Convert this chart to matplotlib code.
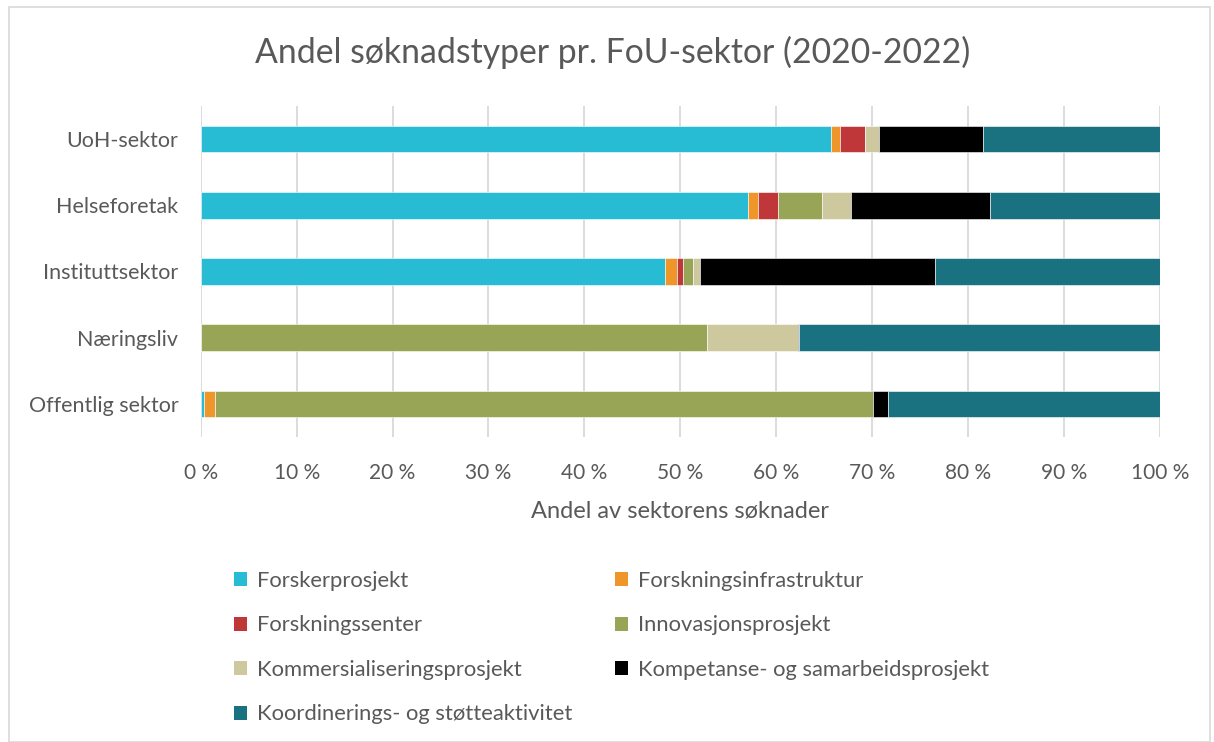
import numpy as np
import matplotlib.pyplot as plt
from matplotlib.patches import Rectangle, Patch
from matplotlib.ticker import FuncFormatter

plt.rcParams['font.family'] = ['Lato', 'DejaVu Sans']

sectors = ['UoH-sektor', 'Helseforetak', 'Instituttsektor', 'Næringsliv', 'Offentlig sektor']
types = ['Forskerprosjekt', 'Forskningsinfrastruktur', 'Forskningssenter',
         'Innovasjonsprosjekt', 'Kommersialiseringsprosjekt',
         'Kompetanse- og samarbeidsprosjekt', 'Koordinerings- og støtteaktivitet']
colors = ['#27bcd4', '#ef962a', '#c0373a', '#98a456', '#cec89e', '#000000', '#1a717f']

# andel (%) per sektor, samme rekkefølge som sectors
forskerprosjekt = [65.7, 57.0, 48.4, 0.0, 0.3]
infrastruktur = [0.9, 1.1, 1.3, 0.0, 1.2]
senter = [2.6, 2.1, 0.6, 0.0, 0.0]
innovasjon = [0.0, 4.6, 1.0, 52.8, 68.6]
kommersialisering = [1.5, 3.0, 0.7, 9.5, 0.0]
kompetanse = [10.8, 14.5, 24.5, 0.1, 1.5]
koordinering = [18.5, 17.7, 23.5, 37.6, 28.4]

series = [forskerprosjekt, infrastruktur, senter, innovasjon,
          kommersialisering, kompetanse, koordinering]

W, H = 1214, 742
fig = plt.figure(figsize=(W / 100, H / 100), dpi=100)
fig.patches.append(Rectangle((9 / W, 0), 1201 / W, 1 - 7 / H, transform=fig.transFigure,
                             fill=False, edgecolor='#d9d9d9', linewidth=1.2))

ax = fig.add_axes([200.7 / W, 1 - 437 / H, (1160 - 200.7) / W, (437 - 106) / H])
y = np.arange(len(sectors))
left = np.zeros(len(sectors))
for vals, c, name in zip(series, colors, types):
    vals = np.array(vals)
    ax.barh(y, vals, left=left, height=0.4, color=c, edgecolor='white',
            linewidth=0.4, label=name, zorder=3)
    left += vals

ax.set_xlim(0, 100)
ax.set_ylim(len(sectors) - 0.5, -0.5)
ax.set_xticks(np.arange(0, 101, 10))
ax.xaxis.set_major_formatter(FuncFormatter(lambda v, p: f'{v:.0f} %'))
ax.set_yticks(y)
ax.set_yticklabels(sectors)
ax.grid(axis='x', color='#d9d9d9', linewidth=1.3, zorder=0)
for s in ax.spines.values():
    s.set_visible(False)
ax.tick_params(length=0, colors='#595959')
ax.tick_params(axis='x', pad=19, labelsize=15)
ax.tick_params(axis='y', pad=16, labelsize=15.5)
ax.set_xlabel('Andel av sektorens søknader', fontsize=17, color='#595959', labelpad=12)

fig.text(613 / W, 1 - 52 / H, 'Andel søknadstyper pr. FoU-sektor (2020-2022)',
         ha='center', va='center', fontsize=24.3, color='#595959')

handles = [Patch(facecolor=c) for c in colors]
order = [0, 2, 4, 6, 1, 3, 5]
fig.legend([handles[i] for i in order], [types[i] for i in order], ncol=2,
           loc='upper left', bbox_to_anchor=(214 / W, 1 - 551 / H), frameon=False,
           fontsize=15.8, labelcolor='#595959', handlelength=0.6, handleheight=0.6,
           handletextpad=0.48, labelspacing=1.12, columnspacing=1.9)

fig.savefig('out.png', dpi=100)
